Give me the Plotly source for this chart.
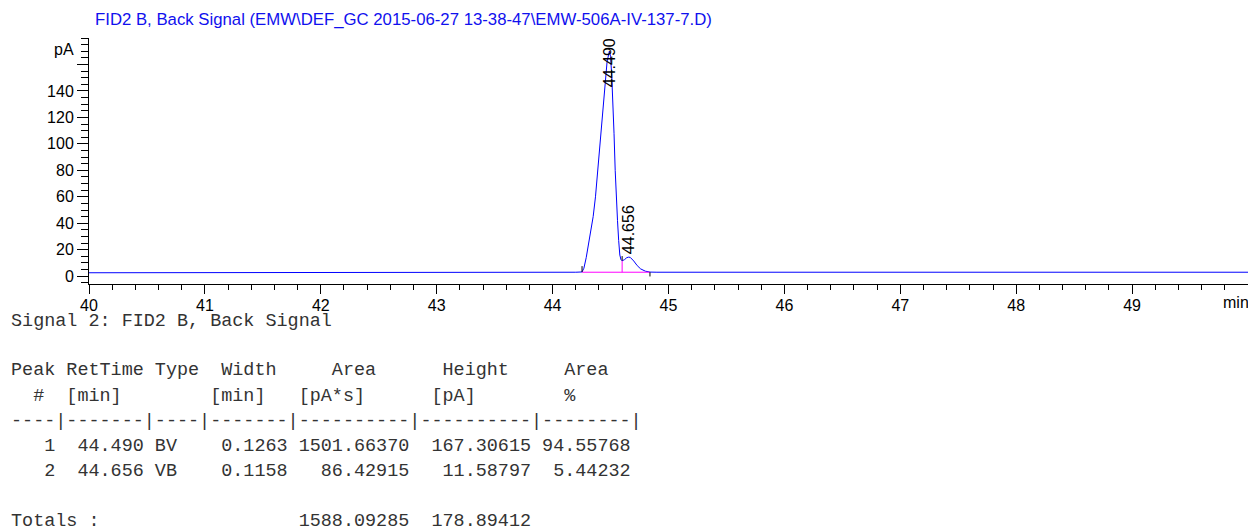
import plotly.graph_objects as go

# ---------------- data ----------------
title_text = "FID2 B, Back Signal (EMW\\DEF_GC 2015-06-27 13-38-47\\EMW-506A-IV-137-7.D)"

time_min = [40.0, 40.40, 40.45, 44.20, 44.254, 44.27, 44.29, 44.31, 44.33, 44.35, 44.37,
            44.39, 44.41, 44.43, 44.45, 44.47, 44.49, 44.50, 44.51, 44.52, 44.53,
            44.54, 44.55, 44.56, 44.57, 44.58, 44.59, 44.60, 44.62, 44.64, 44.656,
            44.67, 44.70, 44.73, 44.76, 44.80, 44.84, 44.90, 50.0]
signal_pA = [2.6, 2.6, 3.0, 3.0, 3.2, 6.0, 14.0, 25.0, 34.0, 45.0, 60.0,
             80.0, 98.0, 120.0, 142.0, 162.0, 170.1, 166.0, 152.0, 134.0, 108.0,
             80.0, 57.0, 42.0, 27.0, 16.0, 12.5, 11.6, 12.5, 14.0, 14.4,
             14.2, 11.5, 8.0, 5.5, 3.8, 3.1, 3.0, 3.0]

# integration baseline / drop line
base_t = [44.254, 44.84]
base_v = [3.0, 3.0]
drop_t = [44.60, 44.60]
drop_v = [3.0, 11.6]

# integration event tick marks
event_t = [44.254, 44.60, 44.84]
event_lo = [3.2, 11.8, -0.2]
event_hi = [7.6, 15.2, 3.0]

# peak table
peak_no = [1, 2]
ret_time = [44.490, 44.656]
peak_type = ["BV", "VB"]
width_min = [0.1263, 0.1158]
area_pAs = [1501.66370, 86.42915]
height_pA = [167.30615, 11.58797]
area_pct = [94.55768, 5.44232]
total_area = 1588.09285
total_height = 178.89412
label_base = [142.0, 16.0]

x_ticks = [40, 41, 42, 43, 44, 45, 46, 47, 48, 49]
y_ticks = [0, 20, 40, 60, 80, 100, 120, 140, 160]
y_ticktext = ["0", "20", "40", "60", "80", "100", "120", "140", ""]

# ---------------- figure ----------------
W, H = 1248, 529
ML, MT, MB = 89, 38, 245
PW = W - ML
PH = H - MT - MB

fig = go.Figure()
fig.add_trace(go.Scatter(x=time_min, y=signal_pA, mode="lines",
                         line=dict(color="#0000ff", width=1), hoverinfo="skip"))
fig.add_trace(go.Scatter(x=base_t, y=base_v, mode="lines",
                         line=dict(color="#ff00ff", width=1), hoverinfo="skip"))
fig.add_trace(go.Scatter(x=drop_t, y=drop_v, mode="lines",
                         line=dict(color="#ff00ff", width=1), hoverinfo="skip"))
ex, ey = [], []
for t, lo, hi in zip(event_t, event_lo, event_hi):
    ex += [t, t, None]
    ey += [lo, hi, None]
fig.add_trace(go.Scatter(x=ex, y=ey, mode="lines",
                         line=dict(color="black", width=1), hoverinfo="skip"))

axfont = dict(family="Liberation Sans, Arial", size=16, color="black")

fig.update_layout(
    width=W, height=H,
    margin=dict(l=ML, r=0, t=MT, b=MB, pad=0, autoexpand=False),
    paper_bgcolor="white", plot_bgcolor="white",
    showlegend=False,
    font=axfont,
    title=dict(text=title_text, x=95 / W, xanchor="left", xref="container",
               y=1 - 19 / H, yanchor="middle", yref="container",
               font=dict(family="Liberation Sans, Arial", size=16.75, color="#1010ee")),
    xaxis=dict(range=[40, 50], showgrid=False, zeroline=False, automargin=False,
               showline=True, linecolor="black", linewidth=1,
               tickmode="array", tickvals=x_ticks,
               ticks="outside", ticklen=9, tickcolor="black", tickwidth=1,
               tickfont=axfont, ticklabelstandoff=-2,
               minor=dict(dtick=0.2, tick0=40, ticks="outside", ticklen=5,
                          tickcolor="black", showgrid=False)),
    yaxis=dict(range=[-5.9, 180], showgrid=False, zeroline=False, automargin=False,
               showline=True, linecolor="black", linewidth=1,
               tickmode="array", tickvals=y_ticks, ticktext=y_ticktext,
               ticks="outside", ticklen=11, tickcolor="black", tickwidth=1,
               tickfont=axfont,
               minor=dict(dtick=5, tick0=0, ticks="outside", ticklen=7,
                          tickcolor="black", showgrid=False)),
)

# axis unit labels
fig.add_annotation(text="pA", xref="paper", yref="y", x=-14 / PW, y=171,
                   xanchor="right", yanchor="middle", showarrow=False,
                   font=axfont, borderpad=0)
fig.add_annotation(text="min", xref="x", yref="paper", x=49.9, y=-(302 - (MT + PH)) / PH,
                   xanchor="center", yanchor="middle", showarrow=False,
                   font=axfont, borderpad=0)

# peak labels
for rt, lb in zip(ret_time, label_base):
    fig.add_annotation(text=f"{rt:.3f}", x=rt, y=lb, xref="x", yref="y",
                       textangle=-90, xanchor="center", yanchor="bottom",
                       showarrow=False, borderpad=0,
                       font=dict(family="Liberation Sans, Arial", size=16, color="black"))

# report table
lines = []
lines.append(("Signal 2: FID2 B, Back Signal", 321))
lines.append(("Peak RetTime Type  Width     Area      Height     Area  ", 371))
lines.append(("  #  [min]        [min]   [pA*s]      [pA]        %   ", 396))
lines.append(("----|-------|----|-------|----------|----------|--------|", 421))
row_y = [446, 471]
for n, rt, ty, w, a, h, p, yy in zip(peak_no, ret_time, peak_type, width_min,
                                       area_pAs, height_pA, area_pct, row_y):
    lines.append((f"{n:>4}  {rt:6.3f} {ty:<5} {w:6.4f} {a:10.5f} {h:10.5f} {p:8.5f}", yy))
lines.append((f"Totals :{'':18}{total_area:10.5f} {total_height:10.5f}", 521))

for txt, py in lines:
    fig.add_annotation(text=txt.replace(" ", "\u00a0"), xref="paper", yref="paper",
                       x=(10 - ML) / PW, y=((MT + PH) - py) / PH,
                       xanchor="left", yanchor="middle", showarrow=False,
                       borderpad=0, align="left",
                       font=dict(family="Liberation Mono, Courier New, monospace",
                                 size=18.45, color="#333333"))

fig.write_html("out.html", config={"displayModeBar": False},
               post_script="document.body.style.margin='0';document.body.style.overflow='hidden';")
